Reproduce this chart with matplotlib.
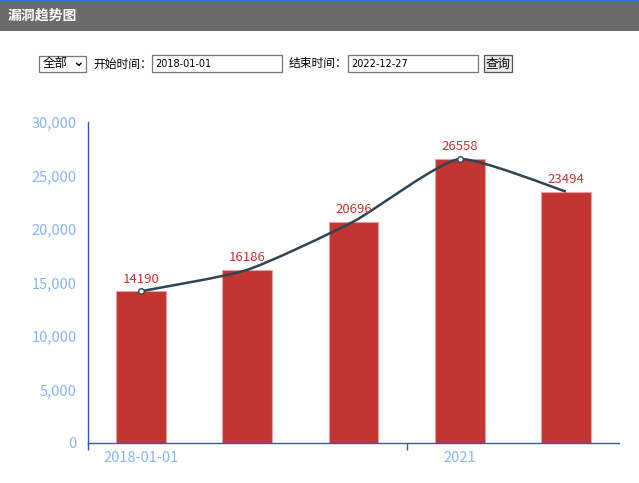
import matplotlib.pyplot as plt
from matplotlib.path import Path
from matplotlib.patches import PathPatch, Rectangle
import numpy as np

plt.rcParams['font.family'] = ['Noto Sans CJK SC', 'DejaVu Sans']

# data
years = ['2018', '2019', '2020', '2021', '2022']
counts = [14190, 16186, 20696, 26558, 23494]
tick_labels = ['2018-01-01', '', '', '2021', '']
y_ticks = [0, 5000, 10000, 15000, 20000, 25000, 30000]
start_date = '2018-01-01'
end_date = '2022-12-27'

W, H = 639, 483
fig = plt.figure(figsize=(W / 100, H / 100), dpi=100)

# header bar
fig.patches.append(Rectangle((0, 1 - 31 / H), 1, 31 / H, transform=fig.transFigure,
                             facecolor='#6b6b6b', edgecolor='none'))
fig.patches.append(Rectangle((0, 1 - 2 / H), 1, 2 / H, transform=fig.transFigure,
                             facecolor='#3a6fd8', edgecolor='none'))
fig.text(8 / W, 1 - 16 / H, '漏洞趋势图', color='white', fontsize=10, fontweight='bold',
         va='center', ha='left')


def box(x0, x1, y0, y1, fc='white', ec='#767676'):
    fig.patches.append(Rectangle((x0 / W, 1 - y1 / H), (x1 - x0) / W, (y1 - y0) / H,
                                 transform=fig.transFigure, facecolor=fc, edgecolor=ec, lw=0.9))


# form row
ty = 1 - 64 / H
box(39, 86, 56, 72)
fig.text(43 / W, ty, '全部', fontsize=9, va='center', ha='left')
fig.text(72 / W, ty + 2 / H, '⌄', fontsize=10, fontweight='bold', va='center', ha='left',
         family='DejaVu Sans')
fig.text(93 / W, ty, '开始时间：', fontsize=8.5, va='center', ha='left')
box(152, 282, 55, 72)
fig.text(155 / W, ty, start_date, fontsize=7, va='center', ha='left', family='DejaVu Sans')
fig.text(289 / W, ty, '结束时间：', fontsize=8.5, va='center', ha='left')
box(348, 478, 55, 72)
fig.text(351 / W, ty, end_date, fontsize=7, va='center', ha='left', family='DejaVu Sans')
box(484, 512, 55, 72, fc='#e9e9e9', ec='#555555')
fig.text(498 / W, ty, '查询', fontsize=9, va='center', ha='center')

# chart
ax = fig.add_axes([88 / W, 40 / H, 531 / W, 321 / H])
x = np.arange(len(years))
bar_color = '#c23531'
ax.bar(x, counts, width=0.47, color=bar_color, edgecolor='#e8a0a0', linewidth=0.8, zorder=2)
for xi, v in zip(x, counts):
    ax.annotate(str(v), (xi, v), xytext=(0, 4), textcoords='offset points',
                ha='center', va='bottom', color=bar_color, fontsize=9.5, zorder=5)

# smooth line through the bar tops (cubic bezier segments, control points kept in range)
pts = np.column_stack([x, counts]).astype(float)
ymin, ymax = min(counts), max(counts)
verts = [tuple(pts[0])]
codes = [Path.MOVETO]
k = 0.1
for i in range(len(pts) - 1):
    p0 = pts[max(i - 1, 0)]
    p1 = pts[i]
    p2 = pts[i + 1]
    p3 = pts[min(i + 2, len(pts) - 1)]
    c1 = p1 + (p2 - p0) * k
    c2 = p2 - (p3 - p1) * k
    c1[1] = np.clip(c1[1], ymin, ymax)
    c2[1] = np.clip(c2[1], ymin, ymax)
    verts += [tuple(c1), tuple(c2), tuple(p2)]
    codes += [Path.CURVE4] * 3
ax.add_patch(PathPatch(Path(verts, codes), facecolor='none', edgecolor='#2f4554',
                       lw=1.8, zorder=3))
ax.plot(x[[0, 3]], np.array(counts)[[0, 3]], 'o', ms=4, mfc='white', mec='#2f4554',
        mew=1, zorder=4)

ax.set_xlim(-0.5, len(years) - 0.5)
ax.set_ylim(0, 30000)
ax.set_yticks(y_ticks)
ax.set_yticklabels([f'{v:,}' for v in y_ticks])
ax.set_xticks(x)
ax.set_xticklabels(tick_labels)
ax.set_xticks([-0.5, 2.5], minor=True)
ax.tick_params(axis='x', which='major', length=0, pad=6, labelsize=10.5, labelcolor='#8ab4f8')
ax.tick_params(axis='x', which='minor', length=5, color='#3355cc', width=1)
ax.tick_params(axis='y', length=0, pad=8, labelsize=10.5, labelcolor='#8ab4f8')
for s in ['top', 'right']:
    ax.spines[s].set_visible(False)
for s in ['left', 'bottom']:
    ax.spines[s].set_color('#3355cc')
    ax.spines[s].set_linewidth(1)

fig.savefig('out.png', dpi=100)
